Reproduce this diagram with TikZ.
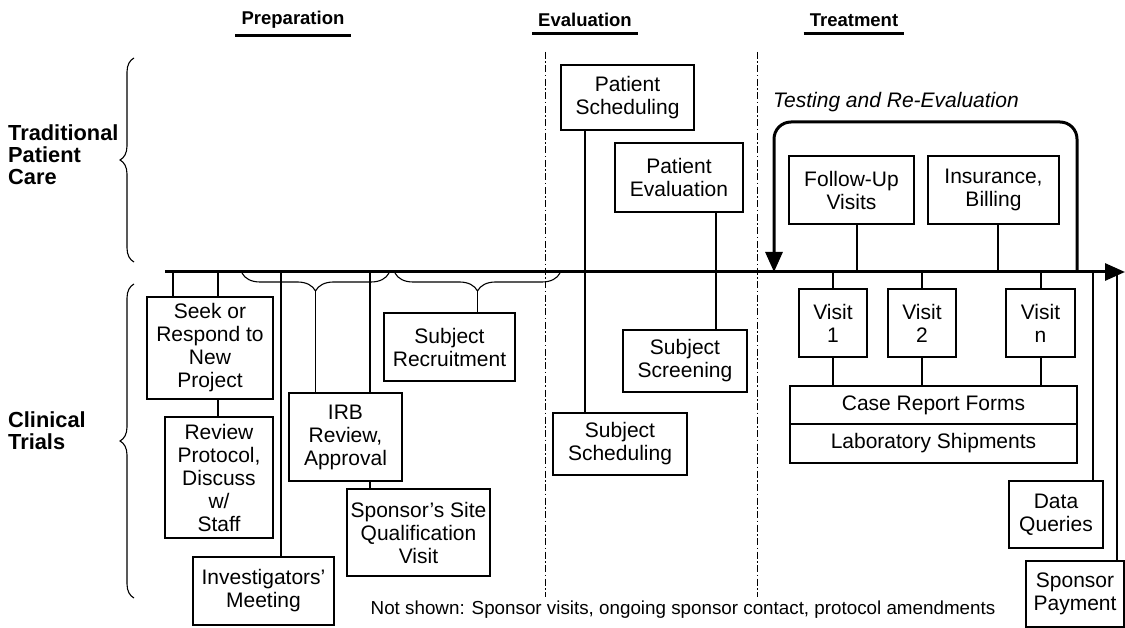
\documentclass[tikz,border=0pt]{standalone}
\usepackage{fontspec}
\setmainfont{Liberation Sans}
\usetikzlibrary{arrows.meta,decorations.pathreplacing}

\begin{document}
\begin{tikzpicture}[x=1pt,y=-1pt,
	box/.style={draw=black,line width=1.1pt,align=center,inner sep=1pt,font=\fontsize{21}{23}\selectfont},
	conn/.style={line width=1.1pt},
	head/.style={font=\fontsize{18.5}{22}\selectfont\bfseries,inner sep=2pt},
	side/.style={font=\fontsize{21.8}{22}\selectfont\bfseries,align=left,anchor=west,inner sep=0pt},
	phase/.style={line width=0.9pt,dash pattern=on 7pt off 2.5pt on 1.5pt off 2.5pt},
	bigline/.style={line width=3pt,-{Triangle[length=20pt,width=17pt]}},
	brc/.style={line width=1.1pt,decorate,decoration={brace,amplitude=#1}}]
	
	\useasboundingbox (0,0) rectangle (1125,628);
	
	% headings
	\node[head] (prep)  at (293,20) {Preparation};
	\node[head] (eval)  at (585,20) {Evaluation};
	\node[head] (treat) at (854,20) {Treatment};
	\foreach \h in {prep,eval,treat}
		\draw[line width=3pt] ([xshift=-4pt,yshift=-5pt]\h.south west) -- ([xshift=4pt,yshift=-5pt]\h.south east);
	
	\node[side] (trad) at (8,155) {Traditional\\Patient\\Care};
	\node[side] (clin) at (8,431) {Clinical\\Trials};
	\draw[brc=14] (134,262) -- (134,58);
	\draw[brc=14] (134,598) -- (134,284);
	
	% phase separators
	\draw[phase] (545,52) -- (545,597);
	\draw[phase] (757,52) -- (757,597);
	
	% time line
	\coordinate (tlstart) at (165,272);
	\coordinate (tlend) at (1125,272);
	\draw[bigline] (tlstart) -- (tlend);
	
	% preparation
	\node[box,minimum width=126,minimum height=102] (seek) at (210,348) {Seek or\\Respond to\\New\\Project};
	\node[box,minimum width=108,minimum height=121] (review) at (219,477.5) {Review\\Protocol,\\Discuss\\w/\\Staff};
	\node[box,minimum width=141,minimum height=68] (invest) at (263.5,591) {Investigators'\\Meeting};
	\node[box,minimum width=113,minimum height=88] (irb) at (345.5,437) {IRB\\Review,\\Approval};
	\node[box,minimum width=143,minimum height=87] (visitsite) at (418.5,532.5) {Sponsor's Site\\Qualification\\Visit};
	\node[box,minimum width=131,minimum height=68] (recruit) at (449.5,347) {Subject\\Recruitment};
	
	\draw[brc=18] (389,273) -- (242,273);
	\draw[brc=18] (560,273) -- (395,273);
	\coordinate (irbtip) at (315.5,291);
	\coordinate (rectip) at (477.5,291);
	
	\foreach \x/\n in {173/seek,218/seek,281/invest,370/irb}
		\draw[conn] (\x,272) -- (\x,272 |- \n.north);
	\draw[conn] (218,0 |- seek.south) -- (218,0 |- review.north);
	\draw[conn] (370,0 |- irb.south) -- (370,0 |- visitsite.north);
	\draw[conn] (irbtip) -- (irbtip |- irb.north);
	\draw[conn] (rectip) -- (rectip |- recruit.north);
	
	% evaluation
	\node[box,minimum width=133,minimum height=65] (patsched) at (627.5,97.5) {Patient\\Scheduling};
	\node[box,minimum width=128,minimum height=69] (pateval) at (679,177.5) {Patient\\Evaluation};
	\node[box,minimum width=124,minimum height=62] (subscreen) at (685,361) {Subject\\Screening};
	\node[box,minimum width=134,minimum height=62] (subsched) at (620,444) {Subject\\Scheduling};
	\draw[conn] (585,0 |- patsched.south) -- (585,0 |- subsched.north);
	\draw[conn] (716,0 |- pateval.south) -- (716,0 |- subscreen.north);
	
	% treatment
	\node[font=\fontsize{21}{23}\selectfont\itshape] (testing) at (896,102) {Testing and Re-Evaluation};
	\coordinate (loopr) at (1077,272);
	\coordinate (loopl) at (774,272);
	\draw[bigline,rounded corners=17pt] (loopr) -- (1077,122) -| (loopl);
	
	\node[box,minimum width=125,minimum height=68] (followup) at (851.5,190) {Follow-Up\\Visits};
	\node[box,minimum width=131,minimum height=68] (insur) at (993.5,190) {Insurance,\\Billing};
	\node[box,minimum width=68,minimum height=68] (visit1) at (833,323) {Visit\\1};
	\node[box,minimum width=68,minimum height=68] (visit2) at (922,323) {Visit\\2};
	\node[box,minimum width=69,minimum height=68] (visitn) at (1040.5,323) {Visit\\n};
	\node[box,minimum width=287,minimum height=38] (crf) at (933.5,405) {Case Report Forms};
	\node[box,minimum width=287,minimum height=39] (lab) at (933.5,443.5) {Laboratory Shipments};
	\node[box,minimum width=94,minimum height=67] (dataq) at (1056,514.5) {Data\\Queries};
	\node[box,minimum width=98,minimum height=66] (payment) at (1075,594) {Sponsor\\Payment};
	
	\draw[conn] (857,0 |- followup.south) -- (857,272);
	\draw[conn] (998,0 |- insur.south) -- (998,272);
	\foreach \x/\n in {833/visit1,922/visit2,1041/visitn}{
		\draw[conn] (\x,272) -- (\x,272 |- \n.north);
		\draw[conn] (\x,0 |- \n.south) -- (\x,0 |- crf.north);
	}
	\draw[conn] (1093,272) -- (1093,272 |- dataq.north);
	\draw[conn] (1117,272) -- (1117,272 |- payment.north);
	
	\node[font=\fontsize{18.8}{22}\selectfont] (note) at (683,610) {Not shown: Sponsor visits, ongoing sponsor contact, protocol amendments};
	
\end{tikzpicture}
\end{document}
